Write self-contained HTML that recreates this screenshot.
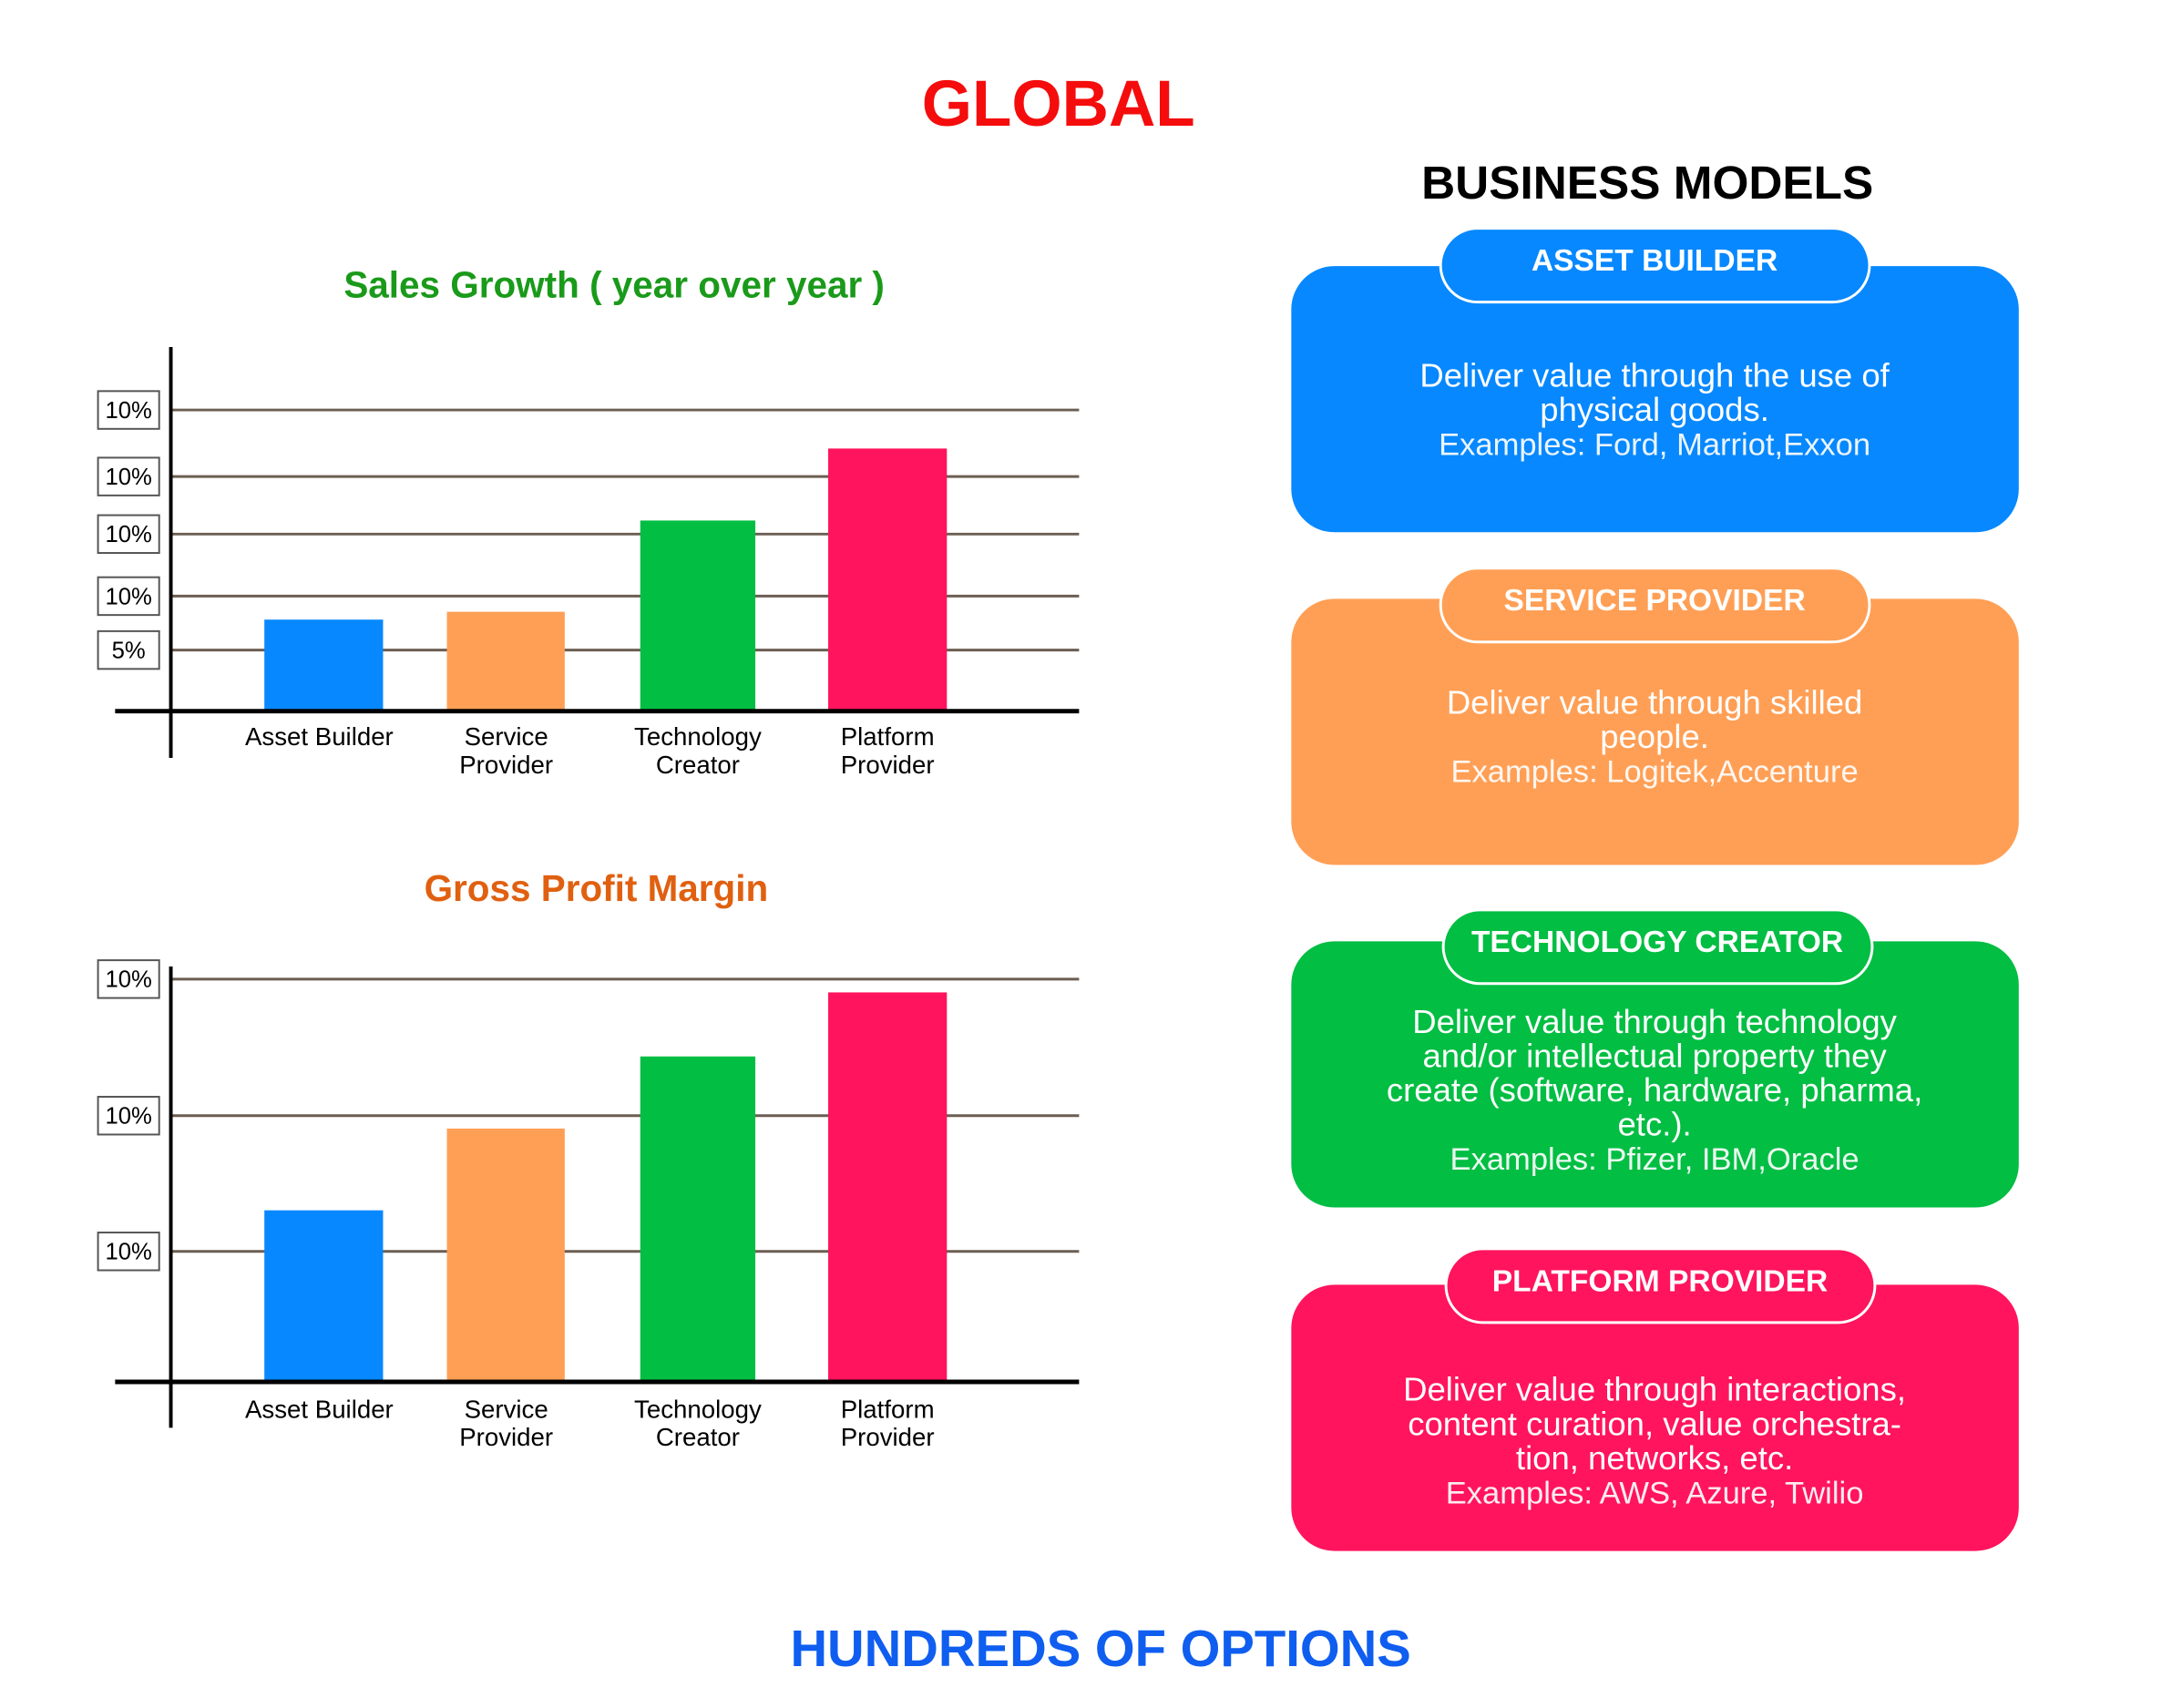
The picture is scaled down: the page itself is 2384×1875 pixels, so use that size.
<!DOCTYPE html>
<html><head><meta charset="utf-8"><style>
html,body{margin:0;padding:0;background:#fff}
svg{display:block;font-family:"Liberation Sans",sans-serif}
</style></head><body>
<svg id="page" width="2384" height="1875" viewBox="0 0 2384 1875">
<g transform="scale(0.987)">
<text x="1177" y="140" font-size="72" font-weight="bold" fill="#f50c0c" text-anchor="middle">GLOBAL</text>
<text x="1832" y="221" font-size="52" font-weight="bold" fill="#000" text-anchor="middle">BUSINESS MODELS</text>
<text x="683" y="331" font-size="41" font-weight="bold" fill="#1a9a1a" text-anchor="middle">Sales Growth ( year over year )</text>
<text x="663" y="1002" font-size="41" font-weight="bold" fill="#e06010" text-anchor="middle">Gross Profit Margin</text>
<g id="chart1"></g>
<g id="chart2"></g>
<g id="cards"></g>
<text x="1224" y="1853" font-size="57" font-weight="bold" fill="#0f5ef0" text-anchor="middle">HUNDREDS OF OPTIONS</text>
</g>
</svg>
<script>
const NS="http://www.w3.org/2000/svg";
const categories=[["Asset Builder"],["Service","Provider"],["Technology","Creator"],["Platform","Provider"]];
const barColors=["#0788fe","#ff9f55","#02be43","#ff145d"];
const salesValues=[30.4,33,63.3,87.2];
const salesTicks=[20.3,38.2,58.8,77.9,100];
const salesTickLabels=["5%","10%","10%","10%","10%"];
const marginValues=[42.6,62.9,80.8,96.7];
const marginTicks=[32.4,66.1,100];
const marginTickLabels=["10%","10%","10%"];
function mk(tag,attrs,parent){const e=document.createElementNS(NS,tag);for(const k in attrs)e.setAttribute(k,attrs[k]);parent.appendChild(e);return e;}
function drawChart(g,base,top,axisTop,axisBottom,vals,ticks,tickLabels,labelY){
  const y=v=>base-(base-top)*v/100;
  const barX=[294,497,712,921],barW=[132,131,128,132],cx=[355,563,776,987];
  ticks.forEach((t,i)=>{
    const l=mk("line",{x1:190,x2:1200,y1:y(t),y2:y(t),stroke:"#6b5e52","stroke-width":3},g);
    
    
    const r=mk("rect",{x:109,y:y(t)-21,width:68,height:42,fill:"#fff",stroke:"#555","stroke-width":2},g);
    
    
    const tx=mk("text",{x:143,y:y(t)+9,"font-size":26,"text-anchor":"middle",fill:"#000"},g);
    tx.textContent=tickLabels[i];
    
    
  });
  vals.forEach((v,i)=>{
    const b=mk("rect",{x:barX[i],y:y(v),width:barW[i],height:base-y(v),fill:barColors[i]},g);
    
    
    categories[i].forEach((s,j)=>{
      const t=mk("text",{x:cx[i],y:labelY+j*31,"font-size":28,"text-anchor":"middle",fill:"#000"},g);
      t.textContent=s;
      
      
    });
  });
  const ax=mk("line",{x1:128,x2:1200,y1:base,y2:base,stroke:"#000","stroke-width":5},g);
  
  
  const ay=mk("line",{x1:190,x2:190,y1:axisTop,y2:axisBottom,stroke:"#000","stroke-width":4},g);
  
  
}
drawChart(document.getElementById("chart1"),791,456,386,843,salesValues,salesTicks,salesTickLabels,829);
drawChart(document.getElementById("chart2"),1537,1089,1075,1588,marginValues,marginTicks,marginTickLabels,1577);

const cardTitles=["ASSET BUILDER","SERVICE PROVIDER","TECHNOLOGY CREATOR","PLATFORM PROVIDER"];
const cardText=[
 ["Deliver value through the use of","physical goods."],
 ["Deliver value through skilled","people."],
 ["Deliver value through technology","and/or intellectual property they","create (software, hardware, pharma,","etc.)."],
 ["Deliver value through interactions,","content curation, value orchestra-","tion, networks, etc."]];
const cardExamples=["Examples: Ford, Marriot,Exxon","Examples: Logitek,Accenture","Examples: Pfizer, IBM,Oracle","Examples: AWS, Azure, Twilio"];
const cardY=[296,666,1047,1429],tabY=[254,632,1012,1389],tabX=[1602,1602,1605,1608],textY=[430,794,1149,1558];
const cg=document.getElementById("cards");
cardTitles.forEach((t,i)=>{
  const c=mk("rect",{x:1436,y:cardY[i],width:809,height:296,rx:48,fill:barColors[i]},cg);
  
  
  const tb=mk("rect",{x:tabX[i],y:tabY[i],width:477,height:82,rx:41,fill:barColors[i],stroke:"#fff","stroke-width":3},cg);
  
  
  const tt=mk("text",{x:tabX[i]+238,y:tabY[i]+47,"font-size":34,"font-weight":"bold",fill:"#fff","text-anchor":"middle"},cg);
  tt.textContent=t;
  
  
  const lines=cardText[i].concat([cardExamples[i]]);
  lines.forEach((s,j)=>{
    const isEx=j===lines.length-1;
    const e=mk("text",{x:1840,y:textY[i]+j*38,"font-size":isEx?35:37,fill:"#fff","text-anchor":"middle",opacity:isEx?0.92:1},cg);
    e.textContent=s;
    
    
  });
});
</script>
</body></html>
